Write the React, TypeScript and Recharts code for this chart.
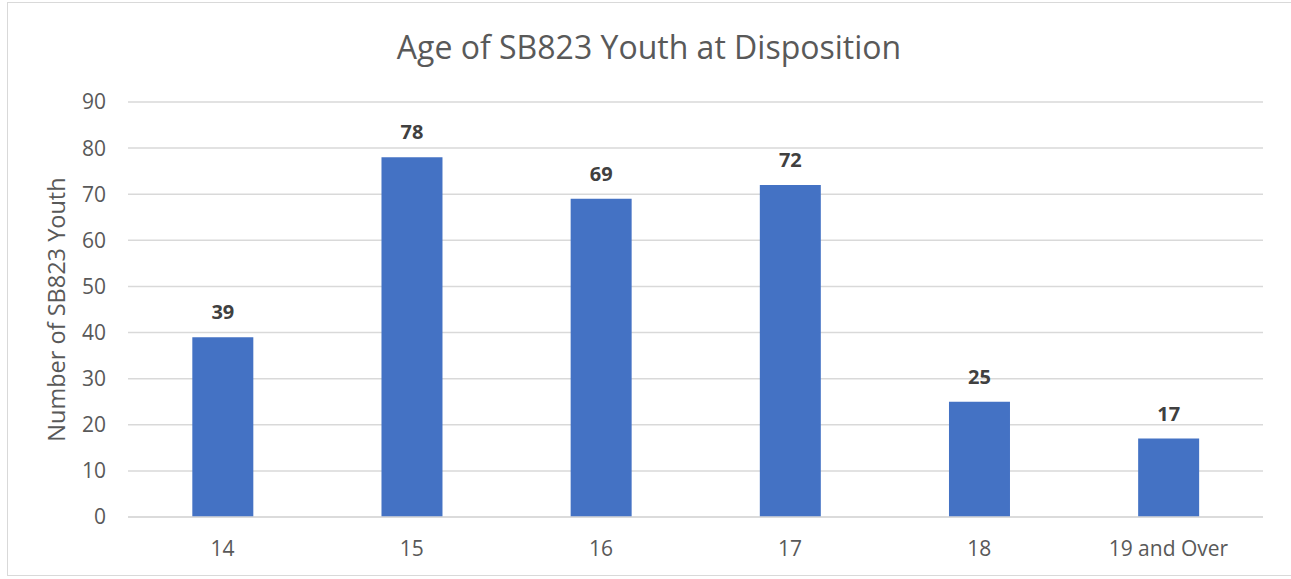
import React from "react";
import { BarChart, Bar, XAxis, YAxis, CartesianGrid, LabelList } from "recharts";

const categories = ["14", "15", "16", "17", "18", "19 and Over"];
const youthCounts = [39, 78, 69, 72, 25, 17];
const yTicks = [0, 10, 20, 30, 40, 50, 60, 70, 80, 90];

const data = categories.map((age, i) => ({ age, count: youthCounts[i] }));

const FONT = "'Open Sans', 'Liberation Sans', sans-serif";

export default function App() {
  return (
    <div style={{ position: "absolute", left: 0, top: 0, width: 1291, height: 579, background: "#fff", fontFamily: FONT }}>
      <div style={{ position: "absolute", left: 7, top: 2, width: 1290, height: 574, border: "1.5px solid #D9D9D9", boxSizing: "border-box" }} />
      <div style={{ position: "absolute", left: 0, top: 25, width: 1298, textAlign: "center", fontSize: 32, color: "#595959" }}>
        Age of SB823 Youth at Disposition
      </div>
      <div style={{ position: "absolute", left: 0, top: 0 }}>
        <BarChart width={1291} height={579} data={data} margin={{ top: 102, right: 28, bottom: 32, left: 0 }} barCategoryGap="34%">
          <CartesianGrid vertical={false} stroke="#D9D9D9" strokeWidth={1.5} />
          <XAxis
            dataKey="age"
            axisLine={{ stroke: "#D9D9D9", strokeWidth: 1.5 }}
            tickLine={false}
            tickSize={0}
            tickMargin={24}
            tick={{ fill: "#595959", fontSize: 21, fontFamily: FONT }}
            interval={0}
          />
          <YAxis
            width={128}
            domain={[0, 90]}
            ticks={yTicks}
            axisLine={false}
            tickLine={false}
            tickSize={0}
            tickMargin={22}
            tick={{ fill: "#595959", fontSize: 21, fontFamily: FONT }}
            label={{ value: "Number of SB823 Youth", angle: -90, position: "insideLeft", dx: 52, dy: 0, style: { textAnchor: "middle", fill: "#595959", fontSize: 23.5, fontFamily: FONT } }}
          />
          <Bar dataKey="count" fill="#4472C4" isAnimationActive={false}>
            <LabelList dataKey="count" position="top" offset={18} style={{ fill: "#404040", fontSize: 20, fontWeight: 700, fontFamily: FONT }} />
          </Bar>
        </BarChart>
      </div>
    </div>
  );
}
